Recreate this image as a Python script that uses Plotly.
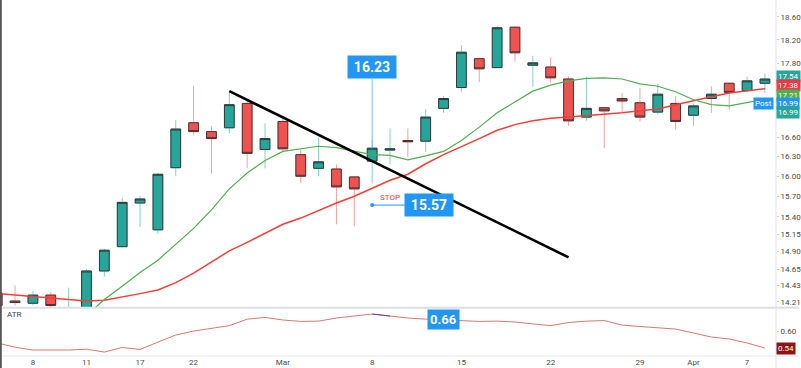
import math
import plotly.graph_objects as go

dates = ['Feb 4', 'Feb 5', 'Feb 8', 'Feb 9', 'Feb 10', 'Feb 11', 'Feb 12', 'Feb 16', 'Feb 17', 'Feb 18',
         'Feb 19', 'Feb 22', 'Feb 23', 'Feb 24', 'Feb 25', 'Feb 26', 'Mar 1', 'Mar 2', 'Mar 3', 'Mar 4',
         'Mar 5', 'Mar 8', 'Mar 9', 'Mar 10', 'Mar 11', 'Mar 12', 'Mar 15', 'Mar 16', 'Mar 17', 'Mar 18',
         'Mar 19', 'Mar 22', 'Mar 23', 'Mar 24', 'Mar 25', 'Mar 26', 'Mar 29', 'Mar 30', 'Mar 31', 'Apr 1',
         'Apr 5', 'Apr 6', 'Apr 7', 'Apr 8']

opens = [14.33, 14.22, 14.19, 14.30, 14.06, 14.10, 14.63, 14.97, 15.60, 15.21,
         16.13, 16.83, 16.69, 16.75, 17.14, 16.41, 16.85, 16.33, 16.12, 16.11,
         15.99, 16.23, 16.40, 16.55, 16.54, 17.06, 17.40, 17.88, 17.73, 18.42,
         17.77, 17.74, 17.54, 16.92, 17.07, 17.22, 17.15, 17.00, 17.14, 16.95,
         17.22, 17.47, 17.35, 17.47]
highs = [14.36, 14.43, 14.35, 14.34, 14.40, 14.66, 14.94, 15.68, 15.71, 16.05,
         16.87, 17.43, 16.78, 17.34, 17.19, 16.82, 16.94, 16.40, 16.60, 16.18,
         16.00, 16.56, 16.74, 16.74, 17.05, 17.26, 18.11, 17.90, 18.44, 18.44,
         17.93, 17.90, 17.58, 17.58, 17.08, 17.31, 17.39, 17.46, 17.26, 17.14,
         17.42, 17.48, 17.58, 17.63]
lows = [14.12, 14.16, 14.16, 14.12, 14.02, 14.06, 14.55, 14.96, 15.25, 15.15,
        16.00, 16.63, 16.04, 16.66, 16.12, 16.12, 16.37, 15.90, 16.00, 15.29,
        15.26, 15.89, 16.18, 16.29, 16.37, 16.99, 17.33, 17.49, 17.73, 17.83,
        17.41, 17.48, 16.78, 16.86, 16.43, 16.99, 16.85, 16.96, 16.72, 16.78,
        16.99, 17.04, 17.33, 17.31]
closes = [14.16, 14.20, 14.30, 14.16, 14.10, 14.63, 14.92, 15.61, 15.66, 16.03,
          16.73, 16.69, 16.58, 17.12, 16.35, 16.58, 16.42, 16.00, 16.22, 15.84,
          15.81, 16.43, 16.42, 16.53, 16.92, 17.22, 17.99, 17.71, 18.41, 17.98,
          17.81, 17.56, 16.86, 17.06, 17.02, 17.18, 16.92, 17.29, 16.85, 17.10,
          17.29, 17.32, 17.51, 17.54]

ma_fast = [None, None, None, None, None, 14.03, 14.24, 14.42, 14.61, 14.78,
           15.00, 15.23, 15.50, 15.81, 16.05, 16.24, 16.38, 16.42, 16.46, 16.44,
           16.38, 16.33, 16.32, 16.25, 16.31, 16.38, 16.55, 16.76, 16.99, 17.16,
           17.34, 17.44, 17.51, 17.55, 17.56, 17.54, 17.46, 17.42, 17.33, 17.20,
           17.12, 17.10, 17.15, 17.21]
ma_slow = [14.32, 14.30, 14.29, 14.27, 14.24, 14.22, 14.23, 14.28, 14.32, 14.37,
           14.47, 14.60, 14.75, 14.91, 15.03, 15.16, 15.29, 15.38, 15.49, 15.60,
           15.70, 15.82, 15.94, 16.03, 16.19, 16.33, 16.45, 16.58, 16.71, 16.80,
           16.86, 16.90, 16.92, 16.94, 16.96, 16.99, 17.02, 17.05, 17.12, 17.19,
           17.25, 17.31, 17.35, 17.38]
atr = [0.558, 0.543, 0.533, 0.533, 0.533, 0.536, 0.526, 0.542, 0.535, 0.561,
       0.586, 0.600, 0.609, 0.619, 0.642, 0.648, 0.639, 0.634, 0.635, 0.646,
       0.653, 0.660, 0.653, 0.646, 0.642, 0.639, 0.637, 0.634, 0.635, 0.632,
       0.625, 0.619, 0.630, 0.635, 0.637, 0.621, 0.616, 0.612, 0.607, 0.593,
       0.579, 0.572, 0.558, 0.540]

price_ticks = [18.60, 18.20, 17.80, 16.60, 16.30, 16.00, 15.70, 15.40, 15.15, 14.90, 14.65, 14.43, 14.21]
atr_ticks = [0.60]
x_tick_dates = ['Feb 8', 'Feb 11', 'Feb 17', 'Feb 22', 'Mar 1', 'Mar 8', 'Mar 15', 'Mar 22', 'Mar 29', 'Apr 1', 'Apr 7']
x_tick_text = ['8', '11', '17', '22', 'Mar', '8', '15', '22', '29', 'Apr', '7']

trend_dates = ['Feb 24', 'Mar 23']
trend_prices = [17.34, 14.82]
entry_date = 'Mar 8'
entry_price = 16.23
stop_price = 15.57
last_close = 17.54
post_price = 16.99
ref_high_line = 18.46
atr_entry = 0.66
atr_marked = ['Mar 8', 'Mar 9']

UP = '#26a69a'
DOWN = '#ef5350'
FONT = 'Roboto'
TICKC = '#4a4a4a'

fig = go.Figure()

# wick layer (light wicks)
fig.add_trace(go.Candlestick(
    x=dates, open=opens, high=highs, low=lows, close=closes,
    increasing=dict(line=dict(color='#86d1c6', width=1), fillcolor=UP),
    decreasing=dict(line=dict(color='#f5a0a0', width=1), fillcolor=DOWN),
    whiskerwidth=0, showlegend=False, hoverinfo='skip', xaxis='x', yaxis='y'))
# body layer with dark outline
body_hi = [max(o, c) for o, c in zip(opens, closes)]
body_lo = [min(o, c) for o, c in zip(opens, closes)]
fig.add_trace(go.Candlestick(
    x=dates, open=opens, high=body_hi, low=body_lo, close=closes,
    increasing=dict(line=dict(color='#2f3b3a', width=1), fillcolor=UP),
    decreasing=dict(line=dict(color='#4a3434', width=1), fillcolor=DOWN),
    whiskerwidth=0, showlegend=False, hoverinfo='skip', xaxis='x', yaxis='y'))

fig.add_trace(go.Scatter(x=dates, y=ma_slow, mode='lines', line=dict(color='#f23f3a', width=1.5),
                         showlegend=False, hoverinfo='skip', yaxis='y'))
fig.add_trace(go.Scatter(x=dates, y=ma_fast, mode='lines', line=dict(color='#4caf50', width=1.2),
                         showlegend=False, hoverinfo='skip', yaxis='y'))
fig.add_trace(go.Scatter(x=trend_dates, y=trend_prices, mode='lines', line=dict(color='#000000', width=2.6),
                         showlegend=False, hoverinfo='skip', yaxis='y'))
fig.add_trace(go.Scatter(x=[entry_date], y=[stop_price], mode='markers',
                         marker=dict(color='#2196f3', size=4), showlegend=False, hoverinfo='skip', yaxis='y'))

fig.add_trace(go.Scatter(x=dates, y=atr, mode='lines', line=dict(color='#d9776f', width=1),
                         showlegend=False, hoverinfo='skip', yaxis='y2'))
i0 = dates.index(atr_marked[0])
i1 = dates.index(atr_marked[1])
fig.add_trace(go.Scatter(x=dates[i0:i1 + 1], y=atr[i0:i1 + 1], mode='lines', line=dict(color='#4a52b0', width=1),
                         showlegend=False, hoverinfo='skip', yaxis='y2'))

lo_log = math.log10(14.14)
hi_log = math.log10(18.90)

shapes = [
    dict(type='line', xref='paper', yref='y', x0=0, x1=1, y0=math.log10(ref_high_line), y1=math.log10(ref_high_line),
         line=dict(color='#dcdfe6', width=1)),
    dict(type='line', xref='paper', yref='y', x0=0, x1=1, y0=math.log10(post_price), y1=math.log10(post_price),
         line=dict(color='#b8d8f5', width=1, dash='dot')),
    dict(type='line', xref='paper', yref='paper', x0=0, x1=1.03, y0=0.1355, y1=0.1355,
         line=dict(color='#dcdfe6', width=2)),
    dict(type='line', xref='paper', yref='paper', x0=0, x1=1.03, y0=0, y1=0,
         line=dict(color='#e6e8ee', width=1)),
    dict(type='line', xref='paper', yref='paper', x0=1, x1=1, y0=-0.04, y1=1,
         line=dict(color='#e0e3eb', width=1)),
    dict(type='line', xref='paper', yref='paper', x0=0.001, x1=0.001, y0=-0.04, y1=1,
         line=dict(color='#555555', width=2)),
]

def box(text, bg, y, yref, shift=0, size=8, x=1, xanchor='left'):
    return dict(xref='paper', x=x, xanchor=xanchor, yref=yref, y=y, yshift=shift, text=text,
                showarrow=False, bgcolor=bg, font=dict(color='white', size=size, family=FONT),
                borderpad=1)

SP = '\u2009'
annotations = [
    box(f'{last_close:.2f}', UP, math.log10(last_close), 'y', 3),
    box(f'{ma_slow[-1]:.2f}', '#f23645', math.log10(ma_slow[-1]), 'y', 3),
    box(f'{ma_fast[-1]:.2f}', '#4caf50', math.log10(ma_fast[-1]), 'y', 4),
    box(f'{post_price:.2f}', '#2196f3', math.log10(post_price), 'y', 9),
    box('Post', '#2196f3', math.log10(post_price), 'y', 9, x=0.998, xanchor='right'),
    box(f'{post_price:.2f}', UP, math.log10(post_price), 'y', 0),
    box(f'{atr[-1]:.2f}', '#8b1414', atr[-1], 'y2', 0),
    dict(x=entry_date, y=math.log10(closes[dates.index(entry_date)]), xref='x', yref='y',
         text=f'<b>{SP}{entry_price:.2f}{SP}</b>', showarrow=True, arrowhead=0, arrowwidth=1, arrowcolor='#7fb9ef',
         ax=0, ay=-81, bgcolor='#2196f3', font=dict(color='white', size=14, family=FONT), borderpad=3),
    dict(x=entry_date, y=math.log10(stop_price), xref='x', yref='y',
         text=f'<b>{SP}{stop_price:.2f}{SP}</b>', showarrow=True, arrowhead=0, arrowwidth=1, arrowcolor='#2196f3',
         ax=57, ay=0, bgcolor='#2196f3', font=dict(color='white', size=14, family=FONT), borderpad=3),
    dict(x='Mar 9', y=math.log10(stop_price), xref='x', yref='y', yshift=8, text='STOP', showarrow=False,
         font=dict(color='#f23645', size=8, family=FONT)),
    dict(x='Mar 12', y=atr_entry, xref='x', yref='y2', yshift=-5, text=f'<b>{atr_entry:.2f}</b>',
         showarrow=False, bgcolor='#2196f3', font=dict(color='white', size=13, family=FONT), borderpad=2),
    dict(xref='paper', x=0.006, xanchor='left', yref='paper', y=0.097, text='ATR', showarrow=False,
         font=dict(color='#444', size=8, family=FONT)),
]

fig.update_layout(
    width=801, height=368,
    margin=dict(l=0, r=23, t=0, b=12),
    paper_bgcolor='white', plot_bgcolor='white',
    showlegend=False, boxgap=0.22,
    font=dict(family=FONT),
    xaxis=dict(type='category', categoryorder='array', categoryarray=dates,
               range=[0.156, 43.62], rangeslider=dict(visible=False), anchor='y2',
               showgrid=False, zeroline=False, showline=False,
               tickmode='array', tickvals=x_tick_dates, ticktext=x_tick_text,
               tickfont=dict(size=8, color=TICKC), ticks=''),
    yaxis=dict(type='log', domain=[0.1376, 1], range=[lo_log, hi_log], side='right', anchor='x',
               showgrid=False, zeroline=False, showline=False,
               tickmode='array', tickvals=price_ticks, ticktext=[f'{v:.2f}' for v in price_ticks],
               tickfont=dict(size=8, color=TICKC), ticks='outside', ticklen=2, tickcolor='#c8c8c8'),
    yaxis2=dict(domain=[0, 0.129], range=[0.512, 0.674], side='right', anchor='x',
                showgrid=False, zeroline=False, showline=False,
                tickmode='array', tickvals=atr_ticks, ticktext=['0.60'],
                tickfont=dict(size=8, color=TICKC), ticks='outside', ticklen=2, tickcolor='#c8c8c8'),
    shapes=shapes, annotations=annotations,
)

fig.write_html('out.html', config={'displayModeBar': False},
               post_script="document.body.style.margin='0px';document.body.style.padding='0px';")
